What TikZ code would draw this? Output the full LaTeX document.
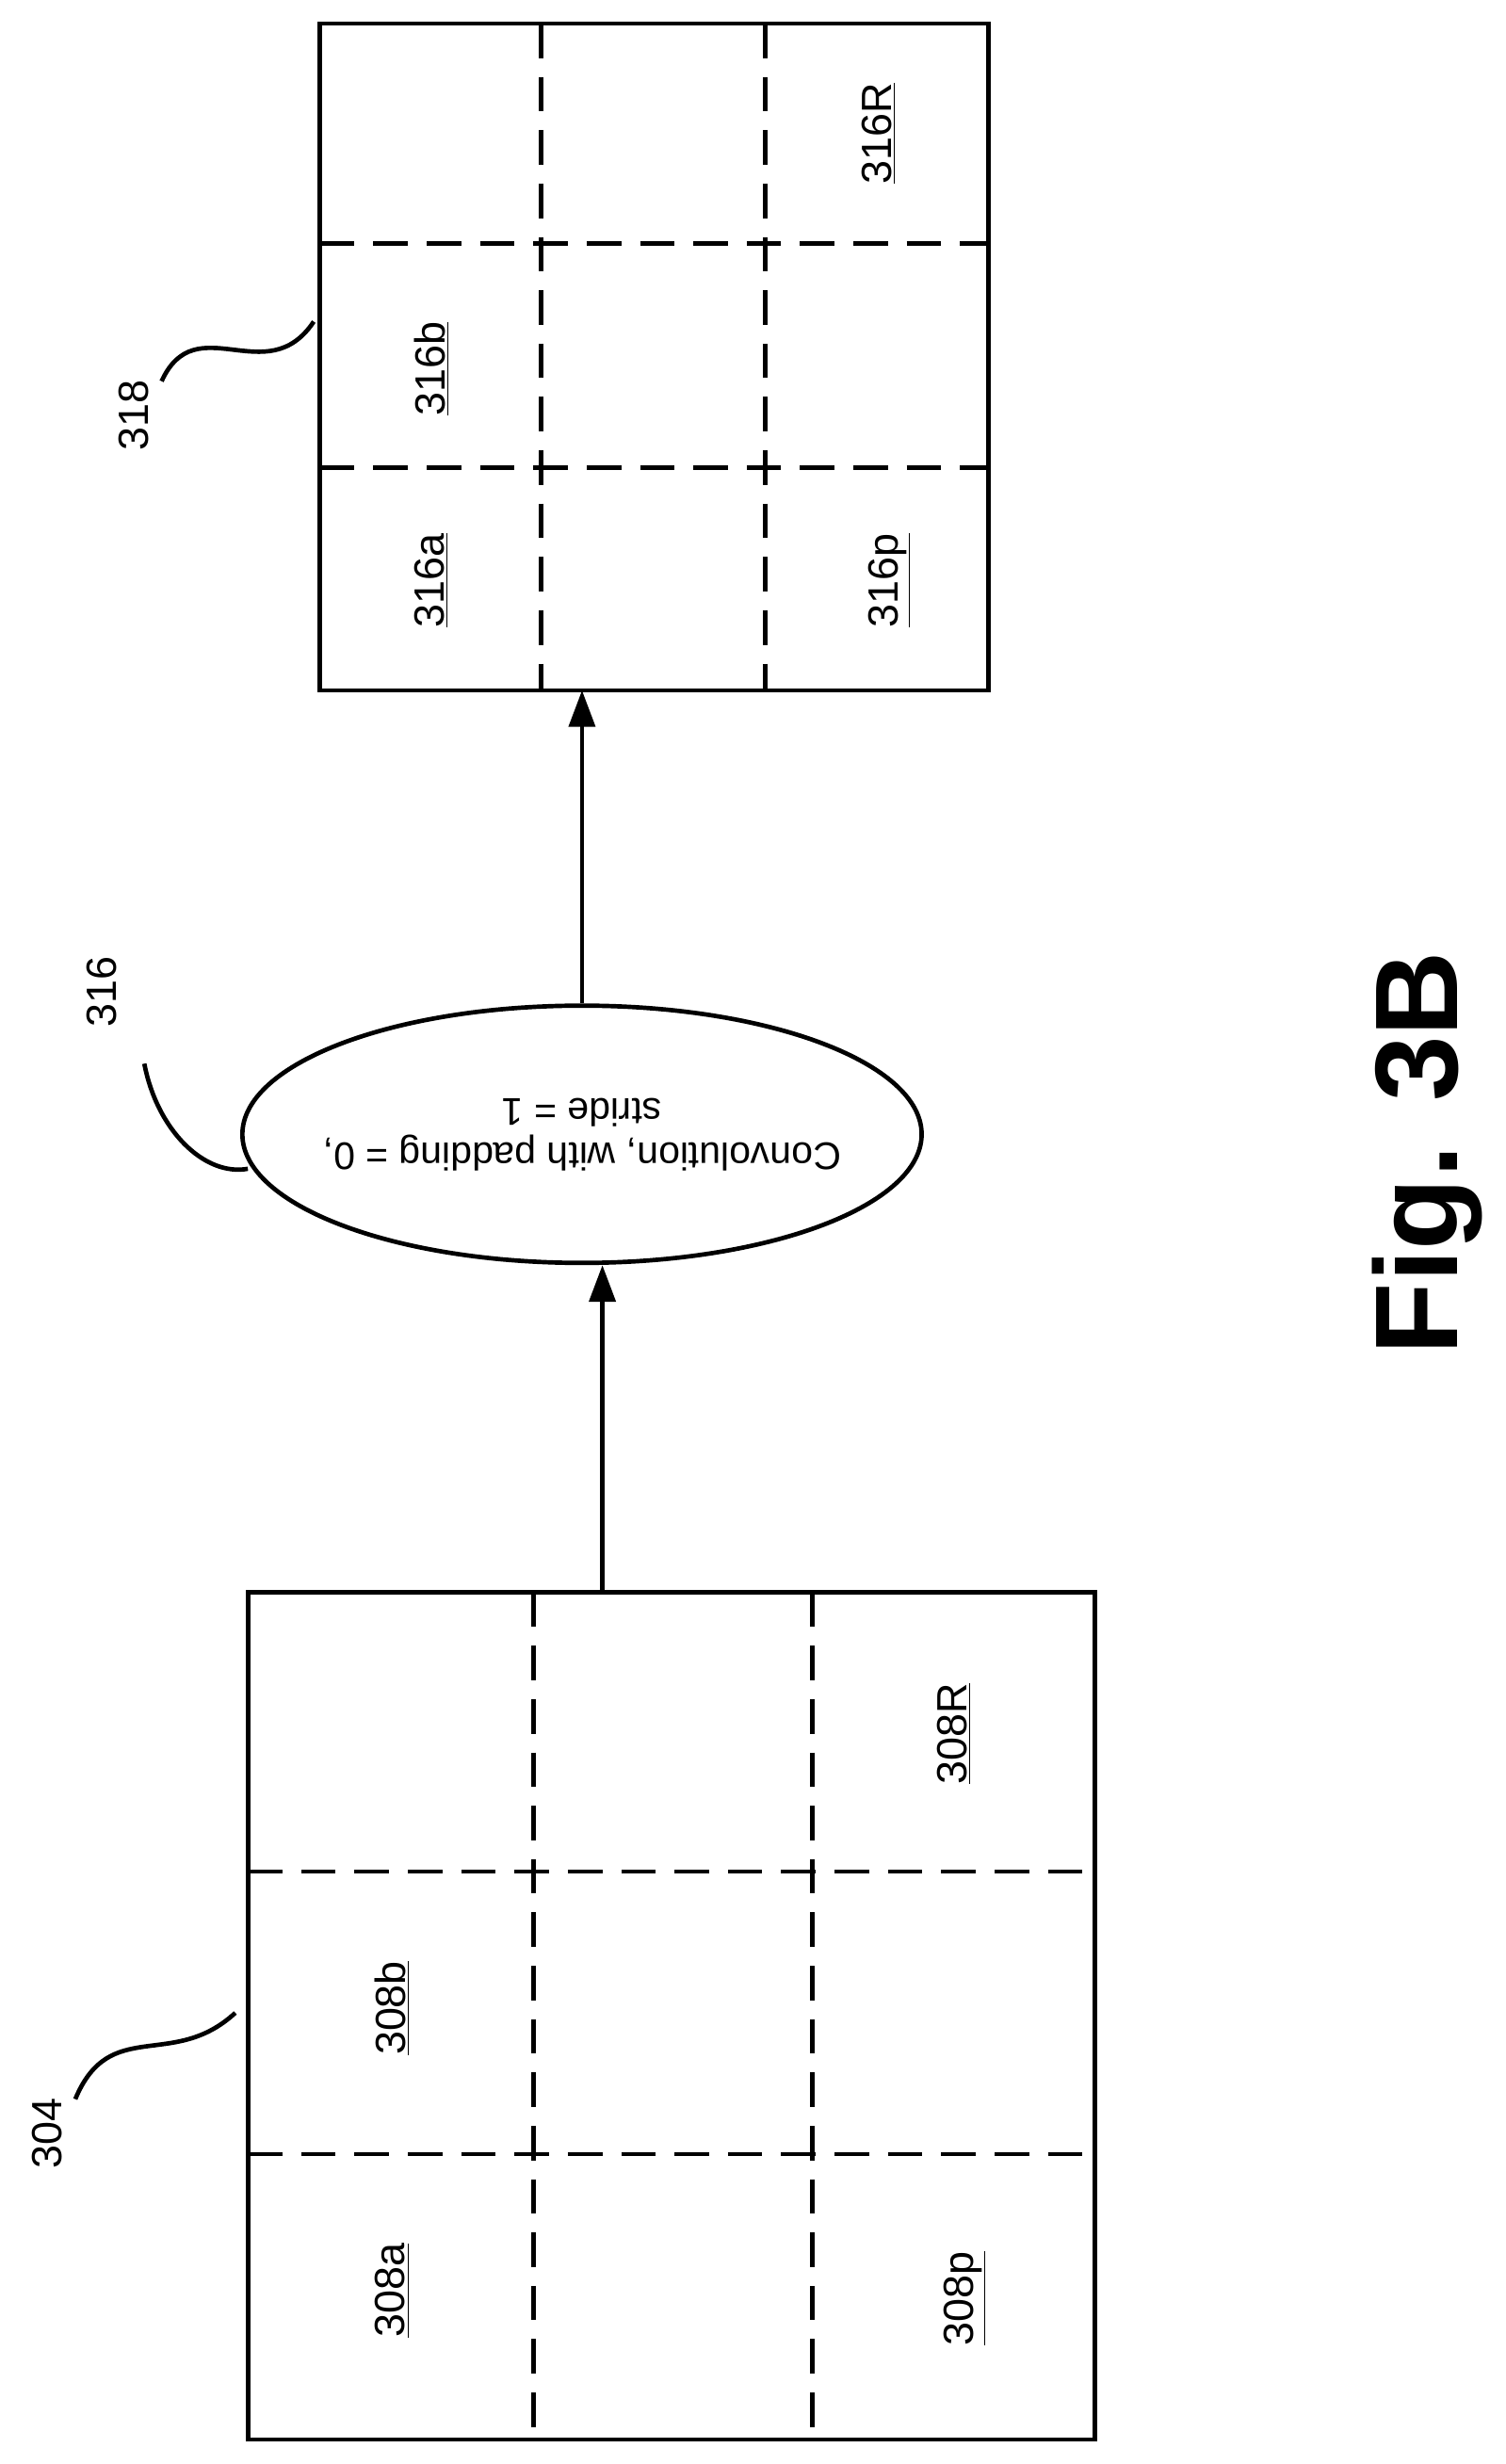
\documentclass[tikz,border=0pt]{standalone}
\usepackage{fontspec}
\setmainfont{Liberation Sans}
\usetikzlibrary{arrows.meta,shapes.geometric,positioning}
\begin{document}
\begin{tikzpicture}[x=0.3mm,y=-0.3mm,line width=2.4pt]
\tikzset{GRID/.style={draw,dash pattern=on 6.6mm off 3.6mm}}
\tikzset{LABEL/.style={font=\fontsize{23}{26}\selectfont,rotate=90}}
\tikzset{FLOW/.style={draw,-{Triangle[length=7mm,width=5mm]}}}
\useasboundingbox (0,0) rectangle (960,1570.6);

% input grid
\draw (158,1015) rectangle (698,1555);
\path[GRID] (340,1015) -- (340,1555) (518,1015) -- (518,1555)
  (158,1193) -- (698,1193) (158,1373) -- (698,1373);
\coordinate (in top) at (384,1015);
\node[LABEL] (l308a) at (250,1460) {\underline{308a}};
\node[LABEL] (l308b) at (250,1280) {\underline{308b}};
\node[LABEL] (l308p) at (615,1465) {\underline{308p}};
\node[LABEL] (l308R) at (608,1105) {\underline{308R}};

% output grid
\draw (204,15) rectangle (630,440);
\path[GRID] (345,15) -- (345,440) (488,15) -- (488,440)
  (204,155) -- (630,155) (204,298) -- (630,298);
\coordinate (out bottom) at (371,440);
\node[LABEL] (l316a) at (275,370) {\underline{316a}};
\node[LABEL] (l316b) at (275,235) {\underline{316b}};
\node[LABEL] (l316p) at (567,370) {\underline{316p}};
\node[LABEL] (l316R) at (560,85) {\underline{316R}};

% operation
\node[draw,ellipse,minimum width=433*0.3mm,minimum height=164*0.3mm,inner sep=0pt] (conv) at (371,723) {};
\node[rotate=180,align=center,font=\fontsize{21}{24}\selectfont] (conv text) at (conv) {Convolution, with padding = 0,\\stride = 1};
\path[FLOW] (in top) -- (in top |- conv.south);
\path[FLOW] (conv.north) -- (out bottom);

% reference numerals
\node[LABEL] (n304) at (30,1360) {304};
\draw (48,1338) .. controls (70,1285) and (110,1320) .. (150,1283);
\node[LABEL] (n318) at (85,265) {318};
\draw (103,243) .. controls (125,195) and (170,250) .. (200,205);
\node[LABEL] (n316) at (65,632) {316};
\draw (92,678) .. controls (100,720) and (130,750) .. (158,745);

\node[rotate=90,font=\fontsize{64}{70}\selectfont\bfseries] (fig) at (910,735) {Fig. 3B};
\end{tikzpicture}
\end{document}
